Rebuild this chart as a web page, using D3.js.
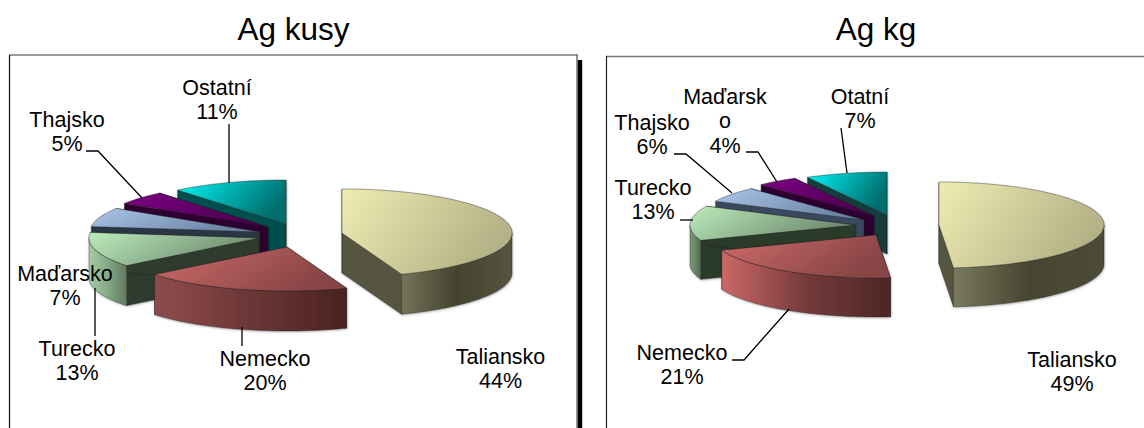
<!DOCTYPE html>
<html>
<head>
<meta charset="utf-8">
<script src="https://cdn.jsdelivr.net/npm/d3@7"></script>
<style>
  html, body { margin: 0; padding: 0; background: #fff; overflow: hidden; }
  text { font-family: "Liberation Sans", Arial, sans-serif; fill: #000; }
</style>
</head>
<body>
<svg width="1144" height="428"></svg>
<script>
const kusyNames = ['Taliansko', 'Nemecko', 'Turecko', 'Maďarsko', 'Thajsko', 'Ostatní'];
const kusyValues = [44.3, 19.9, 12.8, 7, 5, 11];
const kusyLabels = ['44%', '20%', '13%', '7%', '5%', '11%'];

const kgNames = ['Taliansko', 'Nemecko', 'Turecko', 'Thajsko', 'Maďarsko', 'Otatní'];
const kgValues = [48.6, 20.6, 13, 5.8, 4, 8];
const kgLabels = ['49%', '21%', '13%', '6%', '4%', '7%'];

// Slice colours: top face left/right, side wall left/mid/right, cut face
const topColors = [
  ['#efecb2', '#b4b287'], ['#cf6a6a', '#874545'], ['#bcecbc', '#6f8a6f'],
  ['#aac6ea', '#6c84a4'], ['#7d0084', '#4c0050'], ['#00f4f4', '#006e6e']
];
const cutColors = ['#55553f', '#4a2525', '#2f3b2e', '#2a3644', '#2e0032', '#004f4f'];
const kusyWalls = [
  ['#74745a', '#43432e', '#55553f'], ['#8f4c4c', '#6c3636', '#4a2222'], ['#a4cca4', '#86a886', '#5f7a5f'],
  ['#2a3644', '#2a3644', '#2a3644'], ['#2e0032', '#2e0032', '#2e0032'], ['#004f4f', '#004f4f', '#004f4f']
];
const kgWalls = [
  ['#7a7a5e', '#454530', '#4c4c38'], ['#cc6868', '#743a3a', '#4e2626'], ['#7a987a', '#6a866a', '#4e664e'],
  ['#3a4a5e', '#3a4a5e', '#3a4a5e'], ['#2e0032', '#2e0032', '#2e0032'], ['#123c3c', '#123c3c', '#123c3c']
];

const svg = d3.select('svg');
const defs = svg.append('defs');

defs.append('filter').attr('id', 'soft')
  .attr('x', '-5%').attr('y', '-5%').attr('width', '110%').attr('height', '115%')
  .append('feDropShadow')
  .attr('dx', 0.5).attr('dy', 1).attr('stdDeviation', 1.2)
  .attr('flood-color', '#000').attr('flood-opacity', 0.3);

let gradId = 0;
function gradient(stops, x2, y2) {
  const id = 'g' + (gradId++);
  const g = defs.append('linearGradient').attr('id', id)
    .attr('x1', 0).attr('y1', 0).attr('x2', x2).attr('y2', y2);
  stops.forEach((c, i) => {
    g.append('stop').attr('offset', i / (stops.length - 1)).attr('stop-color', c);
  });
  return 'url(#' + id + ')';
}

function drawPie(cfg) {
  const pie = d3.pie().sort(null).value(d => d)(cfg.values);

  // unit circle -> pixels, one pair of scales for the whole pie
  const xs = d3.scaleLinear().domain([-1, 1]).range([-cfg.rx, cfg.rx]);
  const ys = d3.scaleLinear().domain([-1, 1]).range([-cfg.ry, cfg.ry]);
  const line = d3.line().x(d => d[0]).y(d => d[1]);

  const edge = (a, ox, oy, dz) => [ox + xs(Math.sin(a)), oy - ys(Math.cos(a)) + dz];
  const arcPts = (a0, a1, ox, oy, dz) => {
    const n = Math.max(2, Math.ceil((a1 - a0) * 40));
    return d3.range(n + 1).map(i => edge(a0 + (a1 - a0) * i / n, ox, oy, dz));
  };

  const g = svg.append('g');
  // back slices first, so the loop runs from the last slice to the first
  d3.range(pie.length - 1, -1, -1).forEach(i => {
    const s = pie[i];
    const ox = cfg.centers[i][0], oy = cfg.centers[i][1];
    const sg = g.append('g').attr('filter', 'url(#soft)');
    const style = p => p.attr('stroke', '#222').attr('stroke-width', 0.6).attr('stroke-opacity', 0.65).attr('stroke-linejoin', 'round');

    // radial cut faces
    [s.startAngle, s.endAngle].forEach(a => {
      const e = edge(a, ox, oy, 0);
      const pts = [[ox, oy], e, [e[0], e[1] + cfg.depth], [ox, oy + cfg.depth]];
      style(sg.append('path').attr('d', line(pts) + 'Z').attr('fill', cfg.cuts ? cfg.cuts[i] : cutColors[i]));
    });

    // outer wall, only the half that faces us
    const w0 = Math.max(s.startAngle, Math.PI / 2);
    const w1 = Math.min(s.endAngle, Math.PI * 1.5);
    if (w1 > w0) {
      const pts = arcPts(w0, w1, ox, oy, 0).concat(arcPts(w0, w1, ox, oy, cfg.depth).reverse());
      style(sg.append('path').attr('d', line(pts) + 'Z').attr('fill', gradient(cfg.walls[i], 1, 0)));
    }

    // top face
    const top = [[ox, oy]].concat(arcPts(s.startAngle, s.endAngle, ox, oy, 0));
    style(sg.append('path').attr('d', line(top) + 'Z').attr('fill', gradient(topColors[i], 1, 0.35)));
  });

  // leader lines
  g.selectAll('.leader').data(cfg.leaders).enter().append('path')
    .attr('class', 'leader')
    .attr('d', d => line(d))
    .attr('fill', 'none').attr('stroke', '#000').attr('stroke-width', 1.3);

  // slice labels
  cfg.texts.forEach(t => {
    const el = g.append('text').attr('text-anchor', 'middle').attr('font-size', 21.5);
    t.lines.forEach((txt, k) => {
      el.append('tspan').attr('x', t.x).attr('y', t.y + k * 24.3).text(txt);
    });
  });

  svg.append('text').attr('x', cfg.titleX).attr('y', 40)
    .attr('text-anchor', 'middle').attr('font-size', 31.5).text(cfg.title);
}

// panel frames
const frameLine = (x1, y1, x2, y2, c, w) => svg.append('line')
  .attr('x1', x1).attr('y1', y1).attr('x2', x2).attr('y2', y2)
  .attr('stroke', c).attr('stroke-width', w);
frameLine(9, 55, 578, 55, '#777', 1.6);
frameLine(9.5, 55, 9.5, 428, '#111', 1.2);
frameLine(577, 55, 577, 428, '#666', 1.4);
frameLine(580, 60, 580, 428, '#000', 4.4);
frameLine(606, 56.5, 1144, 56.5, '#777', 1.6);
frameLine(606.5, 56, 606.5, 428, '#222', 1.2);

drawPie({
  title: 'Ag kusy', titleX: 293.5,
  values: kusyValues, walls: kusyWalls,
  rx: 170, ry: 44, depth: 40,
  centers: [[342, 233], [287, 247], [259, 238], [260, 232], [268, 227], [286, 224]],
  leaders: [
    [[229, 124], [229, 183]],
    [[86, 151], [98, 151], [142, 198]],
    [[95, 288], [95, 336]],
    [[242, 327], [242, 346]]
  ],
  texts: [
    { x: 500.5, y: 364, lines: [kusyNames[0], kusyLabels[0]] },
    { x: 265, y: 366, lines: [kusyNames[1], kusyLabels[1]] },
    { x: 77, y: 356, lines: [kusyNames[2], kusyLabels[2]] },
    { x: 65, y: 281, lines: [kusyNames[3], kusyLabels[3]] },
    { x: 67, y: 127, lines: [kusyNames[4], kusyLabels[4]] },
    { x: 217, y: 95, lines: [kusyNames[5], kusyLabels[5]] }
  ]
});

drawPie({
  title: 'Ag kg', titleX: 876,
  values: kgValues, walls: kgWalls,
  cuts: ['#55553f', '#4a2525', '#2b3a2b', '#3a4a5e', '#2e0032', '#123c3c'],
  rx: 165, ry: 43, depth: 39,
  centers: [[939, 225], [876, 235], [855, 225], [864, 220], [874, 216], [887, 215]],
  leaders: [
    [[841, 128], [847, 173]],
    [[746, 152], [758, 152], [777, 182]],
    [[674, 154], [686, 154], [732, 193]],
    [[680, 220], [693, 220]],
    [[732, 360], [744, 360], [789, 309]]
  ],
  texts: [
    { x: 1072, y: 367, lines: [kgNames[0], kgLabels[0]] },
    { x: 682, y: 360, lines: [kgNames[1], kgLabels[1]] },
    { x: 653, y: 195, lines: [kgNames[2], kgLabels[2]] },
    { x: 652, y: 130, lines: [kgNames[3], kgLabels[3]] },
    { x: 725, y: 104, lines: ['Maďarsk', 'o', kgLabels[4]] },
    { x: 860, y: 104, lines: [kgNames[5], kgLabels[5]] }
  ]
});
</script>
</body>
</html>
